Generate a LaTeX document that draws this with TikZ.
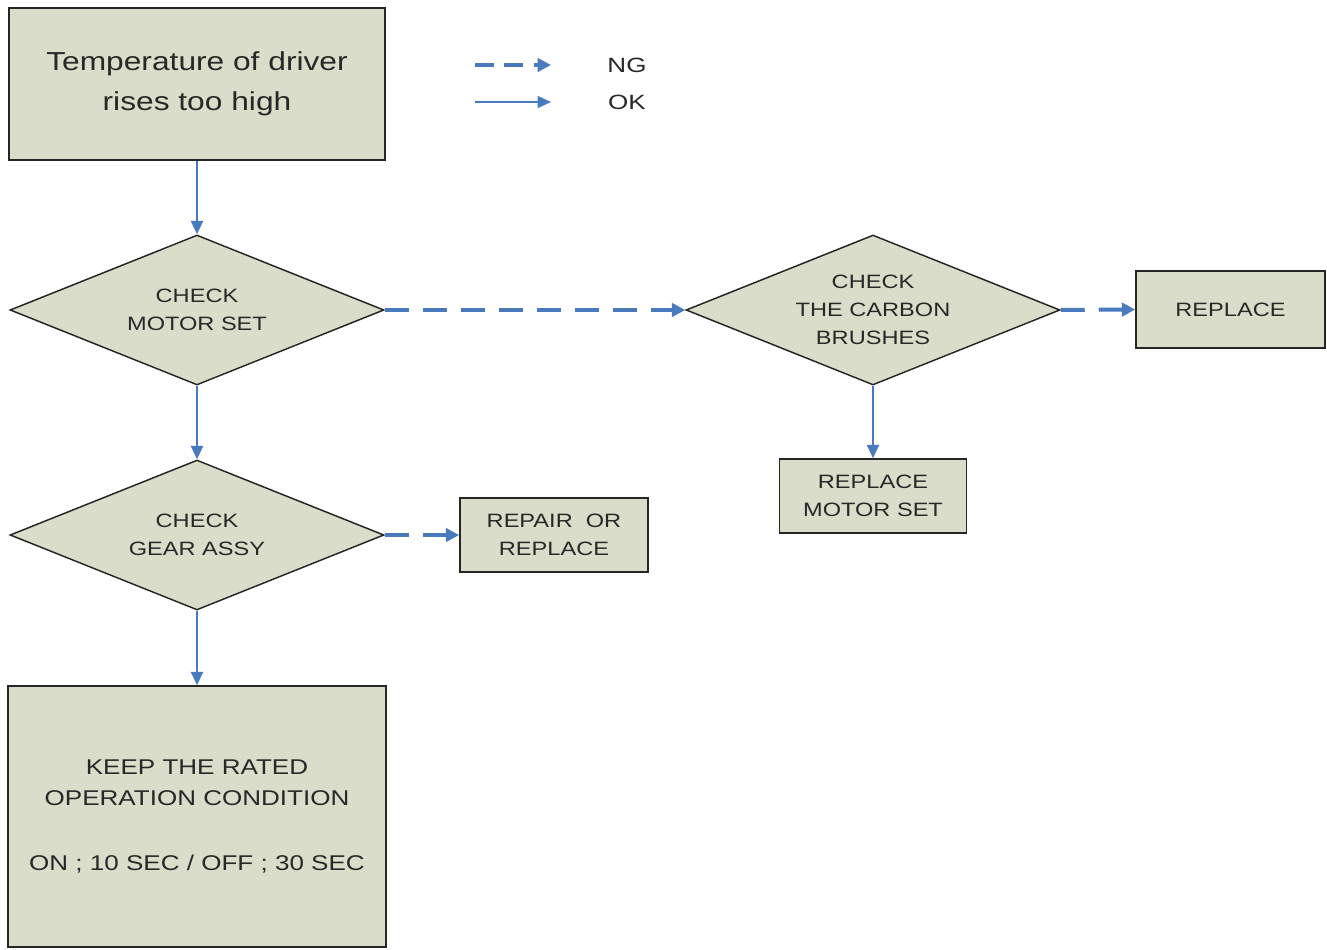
\documentclass[tikz,border=0pt]{standalone}
\usepackage{fontspec}
\setmainfont[FakeStretch=1.22]{Liberation Sans}
\newfontfamily\legendfont[FakeStretch=1.26]{Liberation Sans}
\usetikzlibrary{shapes.geometric,arrows.meta}
\definecolor{boxfill}{RGB}{218,221,201}
\definecolor{arrowblue}{RGB}{74,122,190}
\definecolor{txt}{RGB}{40,40,40}
\tikzset{
  boxnode/.style={draw=black!85,line width=1.2pt,fill=boxfill,text=txt,align=center,inner sep=0pt,font=\fontsize{14.5}{21}\selectfont},
  decision/.style={diamond,aspect=2.5,draw=black!85,line width=1.1pt,fill=boxfill,text=txt,align=center,inner sep=0pt,minimum width=280.5pt,minimum height=112.5pt,font=\fontsize{14.5}{21}\selectfont},
  okarrow/.style={draw=arrowblue,line width=1.6pt,-{Triangle[length=10pt,width=9pt]},arrowblue},
  ngarrow/.style={draw=arrowblue,line width=3pt,dash pattern=on 18pt off 10.5pt,-{Triangle[length=10pt,width=10pt]},arrowblue},
  legendtext/.style={text=txt,font=\legendfont\fontsize{15.5}{21}\selectfont,inner sep=0pt}
}
\begin{document}
\begin{tikzpicture}[x=0.75pt,y=-0.75pt]
\useasboundingbox (0,0) rectangle (1327,949);
% nodes
\node[boxnode,minimum width=282pt,minimum height=114pt,font=\fontsize{19.5}{30}\selectfont] (start) at (197,84) {Temperature of driver\\rises too high};
\node[decision] (d1) at (197,310) {CHECK\\MOTOR SET};
\node[decision] (d2) at (873,310) {CHECK\\THE CARBON\\BRUSHES};
\node[decision] (d3) at (197,535) {CHECK\\GEAR ASSY};
\node[boxnode,minimum width=141.75pt,minimum height=57.75pt] (rep) at (1230.5,309.5) {REPLACE};
\node[boxnode,minimum width=140.25pt,minimum height=55.5pt] (rms) at (873,496) {REPLACE\\MOTOR SET};
\node[boxnode,minimum width=141pt,minimum height=55.5pt] (ror) at (554,535) {REPAIR\ \ OR\\REPLACE};
\node[boxnode,minimum width=283.5pt,minimum height=195.75pt,font=\fontsize{16}{23.25}\selectfont] (keep) at (197,816.5) {KEEP THE RATED\\OPERATION CONDITION\\[25.5pt]ON ; 10 SEC / OFF ; 30 SEC};
% legend
\coordinate (l1a) at (475,65);
\coordinate (l1b) at (551,65);
\coordinate (l2a) at (475,102);
\coordinate (l2b) at (551,102);
\node[legendtext] (ng) at (627,65) {NG};
\node[legendtext] (ok) at (627,102) {OK};
\draw[ngarrow,dash pattern=on 14pt off 8pt] (l1a) -- (l1b);
\draw[okarrow,line width=1pt] (l2a) -- (l2b);
% connectors
\draw[okarrow] (start.south) -- (d1.north);
\draw[okarrow] (d1.south) -- (d3.north);
\draw[okarrow] (d3.south) -- (keep.north);
\draw[okarrow] (d2.south) -- (rms.north);
\draw[ngarrow] (d1.east) -- (d2.west);
\draw[ngarrow] (d2.east) -- (rep.west);
\draw[ngarrow] (d3.east) -- (ror.west);
\end{tikzpicture}
\end{document}
